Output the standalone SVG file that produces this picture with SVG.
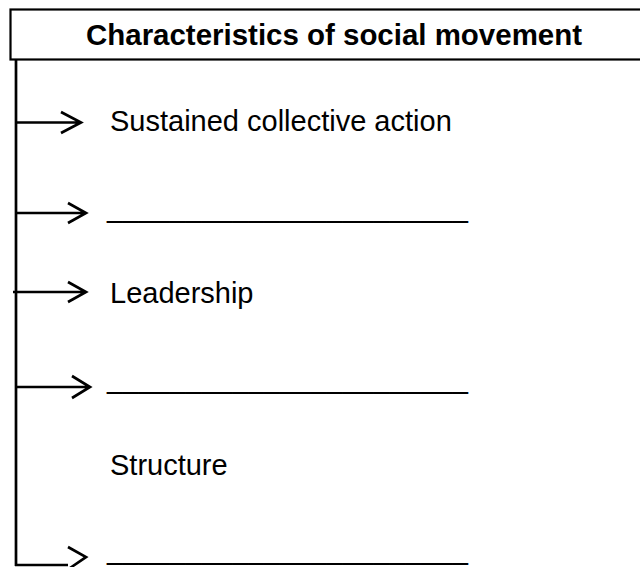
<svg xmlns="http://www.w3.org/2000/svg" width="640" height="567" viewBox="0 0 640 567">
<style>
.ln{fill:none;stroke:#000;stroke-width:2.7;stroke-linecap:butt;stroke-linejoin:miter}
.t{font-family:"Liberation Sans",Arial,sans-serif;font-size:29px;fill:#000}
.h{font-family:"Liberation Sans",Arial,sans-serif;font-size:29px;font-weight:bold;fill:#000}
</style>
<rect width="640" height="567" fill="#fff"/>
<g id="header">
<rect x="10.5" y="9.5" width="640" height="50" fill="#fff" stroke="#000" stroke-width="2.2"/>
<text class="h" x="86" y="45" textLength="496" lengthAdjust="spacingAndGlyphs">Characteristics of social movement</text>
</g>
<g id="connectors">
<path class="ln" d="M16 59 V566"/>
<path class="ln" d="M15 122.5 H79 M61 112 L81 122.5 L61 133"/>
<path class="ln" d="M15 213 H84 M68 203 L86 213 L68 223"/>
<path class="ln" d="M13 292 H84 M68 282 L86 292 L68 302"/>
<path class="ln" d="M15 387 H88 M72 376 L90 387 L72 398"/>
<path class="ln" d="M15 565 H68 M68 547 L86 557 L70 568"/>
</g>
<g id="item1"><text class="t" x="110" y="131">Sustained collective action</text></g>
<g id="item2"><text class="t" x="107" y="217" textLength="361" lengthAdjust="spacingAndGlyphs">_______________________</text></g>
<g id="item3"><text class="t" x="110" y="303">Leadership</text></g>
<g id="item4"><text class="t" x="107" y="388" textLength="361" lengthAdjust="spacingAndGlyphs">_______________________</text></g>
<g id="item5"><text class="t" x="110" y="475">Structure</text></g>
<g id="item6"><text class="t" x="107" y="559" textLength="361" lengthAdjust="spacingAndGlyphs">_______________________</text></g>
</svg>
